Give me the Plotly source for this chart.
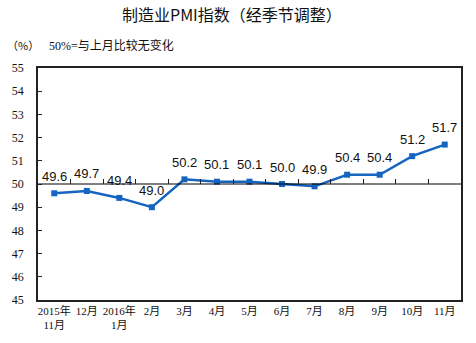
import plotly.graph_objects as go

# Monthly manufacturing PMI, seasonally adjusted
months = ["2015年<br>11月", "12月", "2016年<br>1月", "2月", "3月", "4月", "5月",
          "6月", "7月", "8月", "9月", "10月", "11月"]
pmi = [49.6, 49.7, 49.4, 49.0, 50.2, 50.1, 50.1, 50.0, 49.9, 50.4, 50.4, 51.2, 51.7]
y_ticks = [45, 46, 47, 48, 49, 50, 51, 52, 53, 54, 55]

idx = list(range(len(months)))
blue = "rgb(21,101,192)"
serif = "Liberation Serif, Noto Sans CJK SC"

W, H = 476, 343
L, R, T, B = 36, 15, 68, 41
pw, ph = W - L - R, H - T - B

fig = go.Figure()
fig.add_trace(go.Scatter(
    x=idx, y=pmi, mode="lines+markers",
    line=dict(color=blue, width=2.5),
    marker=dict(symbol="square", size=6, color=blue),
    showlegend=False, hoverinfo="skip",
))
# Reference line at 50 with ticks between months
fig.add_trace(go.Scatter(x=[-0.5, 12.5], y=[50, 50], xaxis="x2", mode="lines",
                         line=dict(color="black", width=1), showlegend=False,
                         hoverinfo="skip"))

annotations = [
    dict(x=i, y=v, text=f"{v:.1f}", showarrow=False, yshift=17,
         font=dict(family="Liberation Sans", size=13, color="#111"))
    for i, v in zip(idx, pmi)
]
annotations += [
    dict(text="制造业PMI指数（经季节调整）", xref="paper", yref="paper",
         x=(231 - L) / pw, y=1 + (T - 14) / ph, yanchor="middle", showarrow=False,
         font=dict(family="Noto Sans CJK SC", size=16, color="#111")),
    dict(text="（%）", xref="paper", yref="paper", xanchor="left", yanchor="middle",
         x=(3 - L) / pw, y=1 + (T - 45) / ph, showarrow=False,
         font=dict(family="Noto Sans CJK SC", size=11, color="#111")),
    dict(text="50%=与上月比较无变化", xref="paper", yref="paper", xanchor="left",
         yanchor="middle", x=(45 - L) / pw, y=1 + (T - 45) / ph, showarrow=False,
         font=dict(family=serif, size=12, color="#111")),
]

fig.update_layout(
    width=W, height=H,
    margin=dict(l=L, r=R, t=T, b=B),
    paper_bgcolor="white", plot_bgcolor="white",
    xaxis=dict(range=[-0.5, 12.5], tickvals=idx, ticktext=months,
               showgrid=False, zeroline=False, showline=True, mirror=True,
               linecolor="#222", linewidth=1.5, ticks="",
               tickfont=dict(family=serif, size=11, color="#111")),
    xaxis2=dict(range=[-0.5, 12.5], overlaying="x", anchor="free", position=0.5,
                tickvals=[i + 0.5 for i in idx[:-1]], ticks="inside", ticklen=5,
                tickcolor="#222", showticklabels=False, showgrid=False,
                zeroline=False, showline=False),
    yaxis=dict(range=[45, 55], tickvals=y_ticks, ticks="inside", ticklen=4,
               tickcolor="#222", showgrid=False, zeroline=False, showline=True,
               mirror=True, linecolor="#222", linewidth=1.5,
               ticklabelstandoff=10,
               tickfont=dict(family=serif, size=12, color="#111")),
    annotations=annotations,
)

fig.write_html("out.html")
